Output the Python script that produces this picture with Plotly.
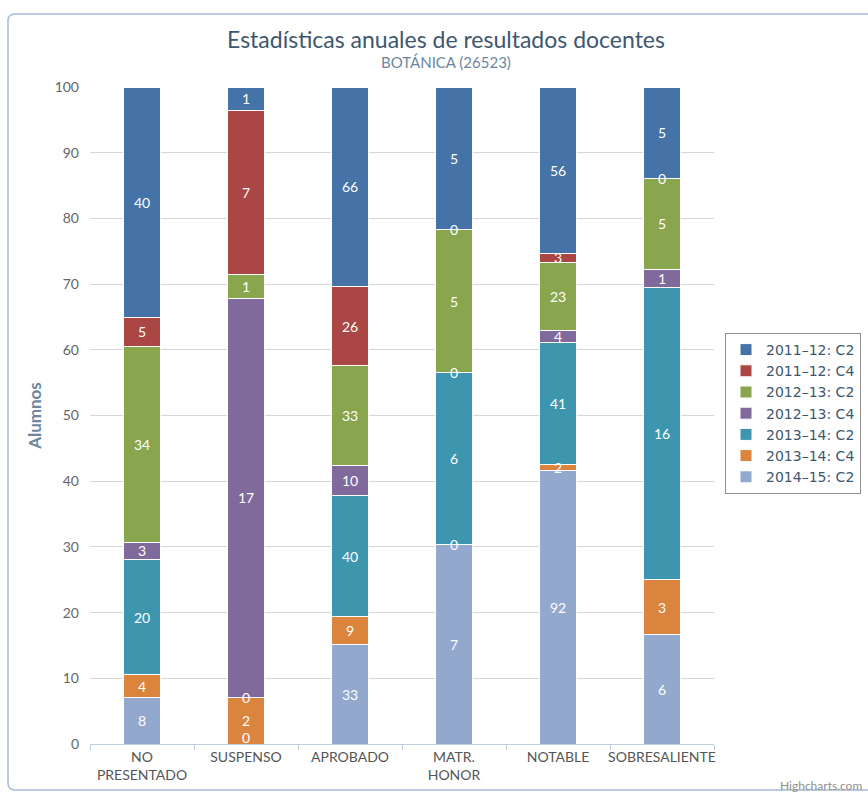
import plotly.graph_objects as go

categories = ["NO<br>PRESENTADO", "SUSPENSO", "APROBADO", "MATR.<br>HONOR", "NOTABLE", "SOBRESALIENTE"]
series_names = ["2011-12: C2", "2011-12: C4", "2012-13: C2", "2012-13: C4",
                "2013-14: C2", "2013-14: C4", "2014-15: C2"]
s_2011_12_c2 = [40, 1, 66, 5, 56, 5]
s_2011_12_c4 = [5, 7, 26, 0, 3, 0]
s_2012_13_c2 = [34, 1, 33, 5, 23, 5]
s_2012_13_c4 = [3, 17, 10, 0, 4, 1]
s_2013_14_c2 = [20, 0, 40, 6, 41, 16]
s_2013_14_c4 = [4, 2, 9, 0, 2, 3]
s_2014_15_c2 = [8, 0, 33, 7, 92, 6]
series_values = [s_2011_12_c2, s_2011_12_c4, s_2012_13_c2, s_2012_13_c4,
                 s_2013_14_c2, s_2013_14_c4, s_2014_15_c2]
colors = ["#4572A7", "#AA4643", "#89A54E", "#80699B", "#3D96AE", "#DB843D", "#92A8CD"]
y_ticks = [0, 10, 20, 30, 40, 50, 60, 70, 80, 90, 100]

FONT = "Lato"

fig = go.Figure()
# Highcharts stacks the first series on top; plotly stacks first trace at bottom
for name, vals, col in reversed(list(zip(series_names, series_values, colors))):
    fig.add_trace(go.Bar(
        x=categories, y=vals, name=name.replace("-", "–"),
        marker=dict(color=col, line=dict(color="#FFFFFF", width=1)),
        hoverinfo="x+y+name",
    ))

# data labels (raw counts) at mid-height of each percent segment
annotations = []
totals = [sum(s[i] for s in series_values) for i in range(len(categories))]
for i, cat in enumerate(categories):
    cum = 0.0
    for vals in reversed(series_values):
        pct = vals[i] / totals[i] * 100.0
        ann = dict(
            x=cat, y=cum + pct / 2.0, xref="x", yref="y",
            text=str(vals[i]), showarrow=False,
            font=dict(family=FONT, size=14, color="#FFFFFF"),
        )
        if cum + pct / 2.0 == 0:
            ann["yshift"] = 7
        annotations.append(ann)
        cum += pct

# geometry helpers (pixel -> paper)
L, R, T, B = 90, 714, 87, 744
def px(xp):
    return (xp - L) / (R - L)
def py(yp):
    return (B - yp) / (B - T)

annotations.append(dict(
    x=px(446), y=py(62), xref="paper", yref="paper", text="BOTÁNICA (26523)",
    showarrow=False, font=dict(family=FONT, size=15, color="#6D869F"),
    yanchor="middle",
))
annotations.append(dict(
    x=px(864), y=py(785), xref="paper", yref="paper", text="Highcharts.com",
    showarrow=False, xanchor="right", yanchor="middle",
    font=dict(family=FONT, size=12, color="#909090"),
))

# rounded chart border
r = 7
x0, x1, y0, y1 = 8, 900, 14, 790
path = (f"M {px(x0)},{py(y0 + r)} Q {px(x0)},{py(y0)} {px(x0 + r)},{py(y0)} "
        f"L {px(x1)},{py(y0)} L {px(x1)},{py(y1)} L {px(x0 + r)},{py(y1)} "
        f"Q {px(x0)},{py(y1)} {px(x0)},{py(y1 - r)} Z")
shapes = [dict(type="path", path=path, xref="paper", yref="paper",
               line=dict(color="#A9BAD3", width=1.5), layer="below")]

fig.update_layout(
    width=868, height=792,
    margin=dict(l=L, r=868 - R, t=T, b=792 - B, autoexpand=False),
    barmode="stack", barnorm="percent", bargap=0.645,
    paper_bgcolor="#FFFFFF", plot_bgcolor="#FFFFFF",
    font=dict(family=FONT, color="#666666"),
    title=dict(text="Estadísticas anuales de resultados docentes",
               x=446 / 868, xref="container", xanchor="center",
               y=1 - 40 / 792, yref="container", yanchor="middle",
               font=dict(family=FONT, size=23, color="#3E576F")),
    xaxis=dict(showgrid=False, showline=True, linecolor="#C0D0E0", linewidth=1,
               ticks="outside", tickson="boundaries", tickcolor="#C0D0E0", ticklen=5,
               tickangle=0,
               tickfont=dict(family=FONT, size=14, color="#555555"),
               fixedrange=True),
    yaxis=dict(range=[0, 100], tickvals=y_ticks, showgrid=True, gridcolor="#D6D6D6",
               gridwidth=1, zeroline=False, showline=False, ticks="",
               ticklabelstandoff=10,
               tickfont=dict(family=FONT, size=14, color="#666666"),
               title=dict(text="<b>Alumnos</b>", standoff=8,
                          font=dict(family=FONT, size=17, color="#6D869F")),
               fixedrange=True),
    legend=dict(x=px(725), y=py(333), xanchor="left", yanchor="top",
                traceorder="reversed", bgcolor="#FFFFFF",
                bordercolor="#909090", borderwidth=1, itemwidth=30,
                font=dict(family="DejaVu Sans", size=14, color="#3E576F"),
                tracegroupgap=0),
    annotations=annotations,
    shapes=shapes,
    showlegend=True,
)

fig.write_html("out.html")
